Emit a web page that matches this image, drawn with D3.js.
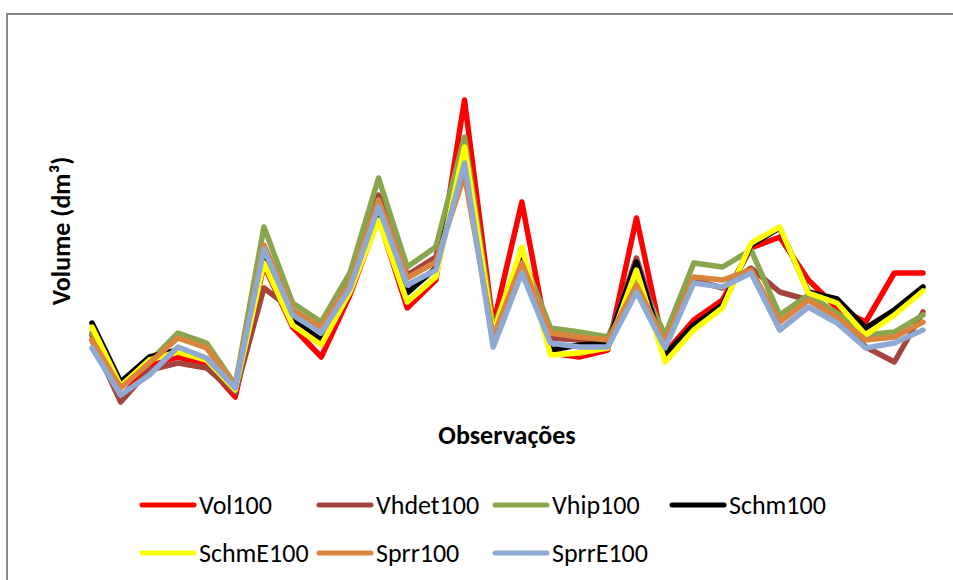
<!DOCTYPE html>
<html>
<head>
<meta charset="utf-8">
<script src="https://cdn.jsdelivr.net/npm/d3@7"></script>
<style>
  html, body { margin: 0; padding: 0; background: #fff; }
  svg { display: block; }
  text { font-family: Carlito, Calibri, Lato, "Open Sans", sans-serif; fill: #000; }
</style>
</head>
<body>
<svg id="chart" width="953" height="580"></svg>
<script>
const observations = d3.range(1, 31);
const seriesNames = ["Vol100", "Vhdet100", "Vhip100", "Schm100", "SchmE100", "Sprr100", "SprrE100"];
const seriesColors = ["#FF0000", "#A5443E", "#89A54E", "#000000", "#FFFF00", "#DB843D", "#8DA9D4"];

const Vol100   = [212.5,55,137.5,157.5,137.5,57.5,387.5,232.5,157.5,312.5,505,280,350,800,237.5,545,167.5,157.5,175,505,167.5,250,300,430,457.5,350,280,245,367.5,367.5];
const Vhdet100 = [200,45,125,142.5,130,67.5,330,275,225,350,562.5,362.5,407.5,670,225,405,205,200,195,405,187.5,350,330,380,320,300,257.5,182.5,145,270];
const Vhip100  = [217.5,85,145,217.5,192.5,87.5,482.5,292.5,245,367.5,605,382.5,432.5,707.5,230,412.5,230,220,207.5,362.5,212.5,392.5,382.5,425,262.5,312.5,267.5,212.5,220,262.5];
const Schm100  = [242.5,95,157.5,175,150,75,412.5,250,200,325,525,317.5,380,662.5,217.5,425,175,187.5,192.5,395,162.5,237.5,287.5,437.5,480,320,302.5,230,275,332.5];
const SchmE100 = [232.5,85,150,170,150,75,392.5,237.5,187.5,320,500,295,357.5,682.5,217.5,432.5,162.5,167.5,180,375,145,225,280,442.5,482.5,317.5,292.5,212.5,262.5,322.5];
const Sprr100  = [200,80,142.5,205,180,85,437.5,275,232.5,342.5,550,355,395,612.5,207.5,392.5,217.5,207.5,200,337.5,195,357.5,350,375,245,300,257.5,200,207.5,245];
const SprrE100 = [180,62.5,112.5,182.5,155,80,427.5,262.5,217.5,330,532.5,337.5,375,642.5,182.5,367.5,192.5,182.5,182.5,320,180,342.5,332.5,367.5,225,282.5,242.5,180,192.5,225];

const seriesValues = [Vol100, Vhdet100, Vhip100, Schm100, SchmE100, Sprr100, SprrE100];

const svg = d3.select("#chart");

// outer chart border
svg.append("rect")
  .attr("x", 7).attr("y", 14)
  .attr("width", 970).attr("height", 600)
  .attr("fill", "#fff")
  .attr("stroke", "#888888")
  .attr("stroke-width", 2);

const x = d3.scalePoint().domain(observations).range([92, 923]);
const y = d3.scaleLinear().domain([0, 950]).range([420, 40]);

const line = d3.line()
  .x((d, i) => x(observations[i]))
  .y(d => y(d));

const g = svg.append("g");
seriesValues.forEach((vals, k) => {
  g.append("path")
    .datum(vals)
    .attr("d", line)
    .attr("fill", "none")
    .attr("stroke", seriesColors[k])
    .attr("stroke-width", 5.5)
    .attr("stroke-linejoin", "round")
    .attr("stroke-linecap", "round");
});

// axis titles
svg.append("text")
  .attr("x", 507).attr("y", 444)
  .attr("text-anchor", "middle")
  .attr("font-weight", "bold")
  .attr("font-size", 26)
  .text("Observações");

svg.append("text")
  .attr("transform", "translate(70,231) rotate(-90)")
  .attr("text-anchor", "middle")
  .attr("font-weight", "bold")
  .attr("font-size", 26)
  .text("Volume (dm³)");

// legend
const legendPos = [
  [140, 505], [317, 505], [493, 505], [670, 505],
  [140, 553], [317, 553], [493, 553]
];
seriesNames.forEach((name, k) => {
  const [lx, ly] = legendPos[k];
  const lg = svg.append("g");
  lg.append("line")
    .attr("x1", lx + 2).attr("x2", lx + 54)
    .attr("y1", ly).attr("y2", ly)
    .attr("stroke", seriesColors[k])
    .attr("stroke-width", 5)
    .attr("stroke-linecap", "round");
  lg.append("text")
    .attr("x", lx + 59).attr("y", ly + 9)
    .attr("font-size", 26)
    .text(name);
});
</script>
</body>
</html>
